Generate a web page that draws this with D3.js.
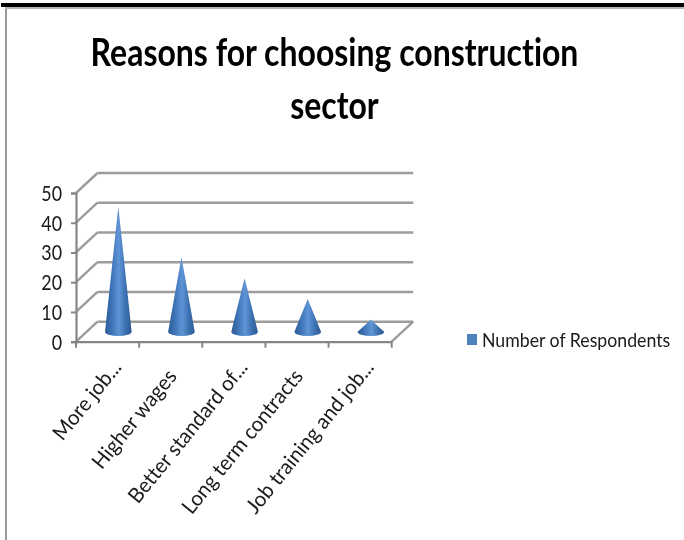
<!DOCTYPE html>
<html>
<head>
<meta charset="utf-8">
<script src="https://cdn.jsdelivr.net/npm/d3@7"></script>
<style>
  html, body { margin: 0; padding: 0; background: #fff; }
  svg { display: block; }
  text { font-family: Lato, "Open Sans", sans-serif; fill: #1a1a1a; font-variant-ligatures: none; }
</style>
</head>
<body>
<svg id="chart"></svg>
<script>
var categories = ["More job...", "Higher wages", "Better standard of...", "Long term contracts", "Job training and job..."];
var respondents = [42, 25, 18, 11, 4];
var yTicks = [0, 10, 20, 30, 40, 50];
var titleLines = ["Reasons for choosing construction", "sector"];
var seriesName = "Number of Respondents";

var width = 684, height = 540;

var svg = d3.select("#chart").attr("width", width).attr("height", height);

//3d box of the plot
var depthX = 21.5, depthY = -20;
var x = d3.scaleBand().domain(categories).range([76, 391.7]);
var y = d3.scaleLinear().domain([0, 50]).range([341.7, 193]);

var defs = svg.append("defs");

//Cone shading
var grad = defs.append("linearGradient").attr("id", "cone");
grad.append("stop").attr("offset", "0%").attr("stop-color", "#2d5a94");
grad.append("stop").attr("offset", "22%").attr("stop-color", "#3b70b2");
grad.append("stop").attr("offset", "52%").attr("stop-color", "#5f95d6");
grad.append("stop").attr("offset", "78%").attr("stop-color", "#3b70b0");
grad.append("stop").attr("offset", "100%").attr("stop-color", "#2c5a92");

//The reference is a slightly soft screenshot
defs.append("filter").attr("id", "soft")
    .append("feGaussianBlur").attr("stdDeviation", 0.4);

var root = svg.append("g").attr("filter", "url(#soft)");

//Page frame
root.append("rect").attr("x", 5).attr("y", 7).attr("width", 2).attr("height", 533).attr("fill", "#9a9a9a");
root.append("rect").attr("x", 5).attr("y", 7).attr("width", 679).attr("height", 2).attr("fill", "#b5b5b5");
root.append("rect").attr("x", 1).attr("y", 3).attr("width", 683).attr("height", 4).attr("fill", "#000");

//Title
root.selectAll(".title").data(titleLines).enter().append("text")
    .attr("class", "title")
    .attr("text-anchor", "middle")
    .attr("font-size", 39)
    .attr("font-weight", 700)
    .attr("transform", function (d, i) {
        return "translate(334.5," + (66 + i * 53) + ") scale(0.82,1)";
    })
    .style("fill", "#000")
    .text(function (d) { return d; });

//Back wall gridlines and the diagonals on the side wall
var grid = root.append("g").attr("fill", "none").attr("stroke", "#9c9c9c").attr("stroke-width", 2.4);
grid.selectAll(".back").data(yTicks).enter().append("line")
    .attr("x1", 76 + depthX).attr("x2", 391.7 + depthX)
    .attr("y1", function (d) { return y(d) + depthY; })
    .attr("y2", function (d) { return y(d) + depthY; });
grid.selectAll(".side").data(yTicks).enter().append("line")
    .attr("x1", 76).attr("x2", 76 + depthX)
    .attr("y1", function (d) { return y(d); })
    .attr("y2", function (d) { return y(d) + depthY; });
grid.append("line")
    .attr("x1", 391.7).attr("y1", y(0))
    .attr("x2", 391.7 + depthX).attr("y2", y(0) + depthY);

//Axes
var axisY = d3.axisLeft(y).tickValues(yTicks).tickSize(5);
var axisX = d3.axisBottom(x).tickSize(0).tickFormat("");
var gy = root.append("g").attr("transform", "translate(76,0)").call(axisY);
gy.select(".domain").attr("stroke", "#868686").attr("stroke-width", 2.2);
gy.selectAll("line").attr("stroke", "#868686").attr("stroke-width", 2);
gy.selectAll("text")
    .attr("x", 0)
    .attr("dy", "0.36em")
    .attr("font-size", 20.5)
    .attr("transform", "translate(-14,0) scale(0.87,1)")
    .style("font-family", "Lato");

var gx = root.append("g").attr("transform", "translate(0," + y(0) + ")").call(axisX);
gx.select(".domain").attr("stroke", "#868686").attr("stroke-width", 2.2);
gx.selectAll(".boundary").data(d3.range(categories.length + 1)).enter().append("line")
    .attr("class", "boundary")
    .attr("x1", function (d) { return 76 + d * x.step(); })
    .attr("x2", function (d) { return 76 + d * x.step(); })
    .attr("y1", 0).attr("y2", 6)
    .attr("stroke", "#868686").attr("stroke-width", 2);

//Category labels, the cut off ones sit a bit higher
root.selectAll(".cat").data(categories).enter().append("text")
    .attr("class", "cat")
    .attr("text-anchor", "end")
    .attr("font-size", 21)
    .attr("transform", function (d) {
        var cut = d.slice(-3) == "...";
        var lx = x(d) + x.bandwidth() / 2 + (cut ? 15 : 7);
        var ly = y(0) + (cut ? 26 : 35);
        return "translate(" + lx + "," + ly + ") rotate(-51) scale(0.97,1)";
    })
    .text(function (d) { return d; });

//Cones stand half way into the box
var coneX = function (d) { return x(d) + x.bandwidth() / 2 + depthX / 2; };
var coneBase = y(0) + depthY / 2;
var rx = 13.3, ry = 4.3;

root.selectAll(".cone").data(categories).enter().append("path")
    .attr("class", "cone")
    .attr("fill", "url(#cone)")
    .attr("d", function (d, i) {
        var cx = coneX(d);
        return "M" + (cx - rx) + "," + coneBase +
            "L" + cx + "," + (y(respondents[i]) + depthY / 2) +
            "L" + (cx + rx) + "," + coneBase +
            "A" + rx + "," + ry + " 0 0 1 " + (cx - rx) + "," + coneBase + "Z";
    });

//Legend
root.append("rect").attr("x", 467).attr("y", 334).attr("width", 10).attr("height", 11).attr("fill", "#4f81bd");
root.append("text")
    .attr("font-size", 20)
    .attr("transform", "translate(482,347) scale(0.885,1)")
    .text(seriesName);
</script>
</body>
</html>
